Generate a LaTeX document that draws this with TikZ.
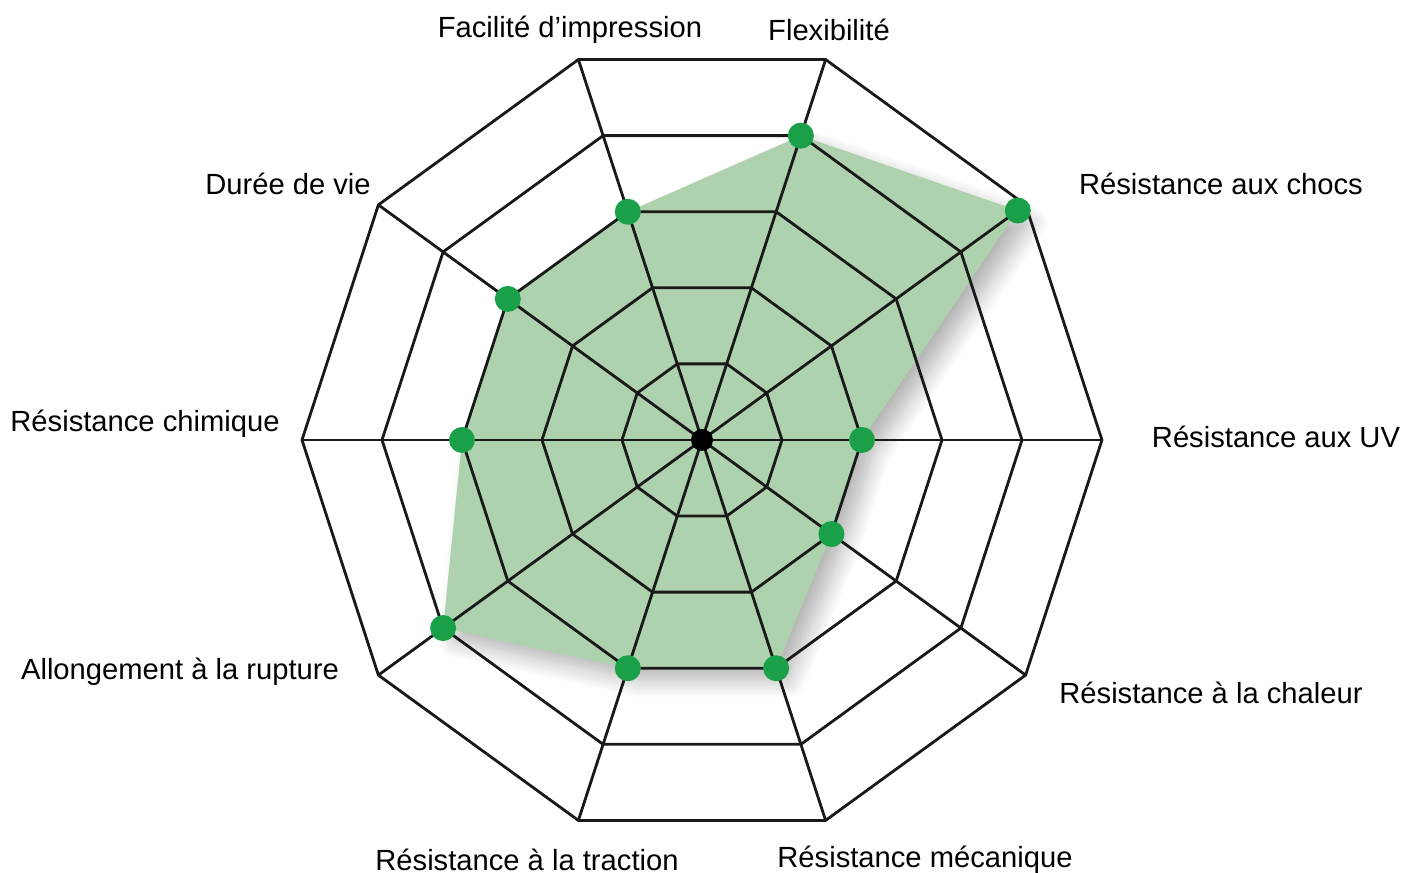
\documentclass[tikz,border=0pt]{standalone}
\usepackage{fontspec}
\setmainfont{Liberation Sans}
\usetikzlibrary{calc,shadows.blur}
\definecolor{areagreen}{HTML}{AED2AE}
\definecolor{dotgreen}{HTML}{1BA04A}

\begin{document}
\begin{tikzpicture}[
    grid line/.style={line width=0.8pt, black!90},
    area/.style={fill=areagreen, blur shadow={shadow xshift=3.5pt,
        shadow yshift=-3.5pt, shadow blur radius=5pt, shadow blur steps=12,
        shadow opacity=30}},
    value dot/.style={circle, fill=dotgreen, inner sep=0pt, minimum size=0.26cm},
    hub/.style={circle, fill=black, inner sep=0pt, minimum size=0.22cm},
    axis label/.style={font=\fontsize{8.3}{10}\selectfont}
    ]
    \useasboundingbox (-7.02,-4.33) rectangle (7.03,4.40);
    \coordinate (o) at (0,0);

    %values
    \foreach \a/\v [count=\i] in {0/2,36/4.88,72/4,108/3,144/3,180/3,216/4,252/3,288/3,324/2}
        \coordinate (p\i) at (\a:{0.8*\v});
    \fill[area] (p1) -- (p2) -- (p3) -- (p4) -- (p5) -- (p6) -- (p7)
        -- (p8) -- (p9) -- (p10) -- cycle;

    %rings
    \foreach \r in {1,...,5}
        \draw[grid line] (0:{0.8*\r}) \foreach \a in {36,72,...,324}{ -- (\a:{0.8*\r})} -- cycle;

    %axis
    \foreach \a in {0,36,...,324}
        \draw[grid line] (o) -- (\a:4);
    \node[hub] (hub) at (o) {};

    %dots
    \foreach \i in {1,...,10}
        \node[value dot] (d\i) at (p\i) {};

    %axis names
    \node[axis label] (uv) at (5.74,0.03) {Résistance aux UV};
    \node[axis label] (chocs) at (5.19,2.56) {Résistance aux chocs};
    \node[axis label] (flex) at (1.27,4.10) {Flexibilité};
    \node[axis label] (impr) at (-1.32,4.10) {Facilité d’impression};
    \node[axis label] (vie) at (-4.14,2.56) {Durée de vie};
    \node[axis label] (chim) at (-5.57,0.16) {Résistance chimique};
    \node[axis label] (allong) at (-5.22,-2.32) {Allongement à la rupture};
    \node[axis label] (tract) at (-1.75,-4.20) {Résistance à la traction};
    \node[axis label] (meca) at (2.23,-4.20) {Résistance mécanique};
    \node[axis label] (chal) at (5.09,-2.53) {Résistance à la chaleur};

\end{tikzpicture}
\end{document}
